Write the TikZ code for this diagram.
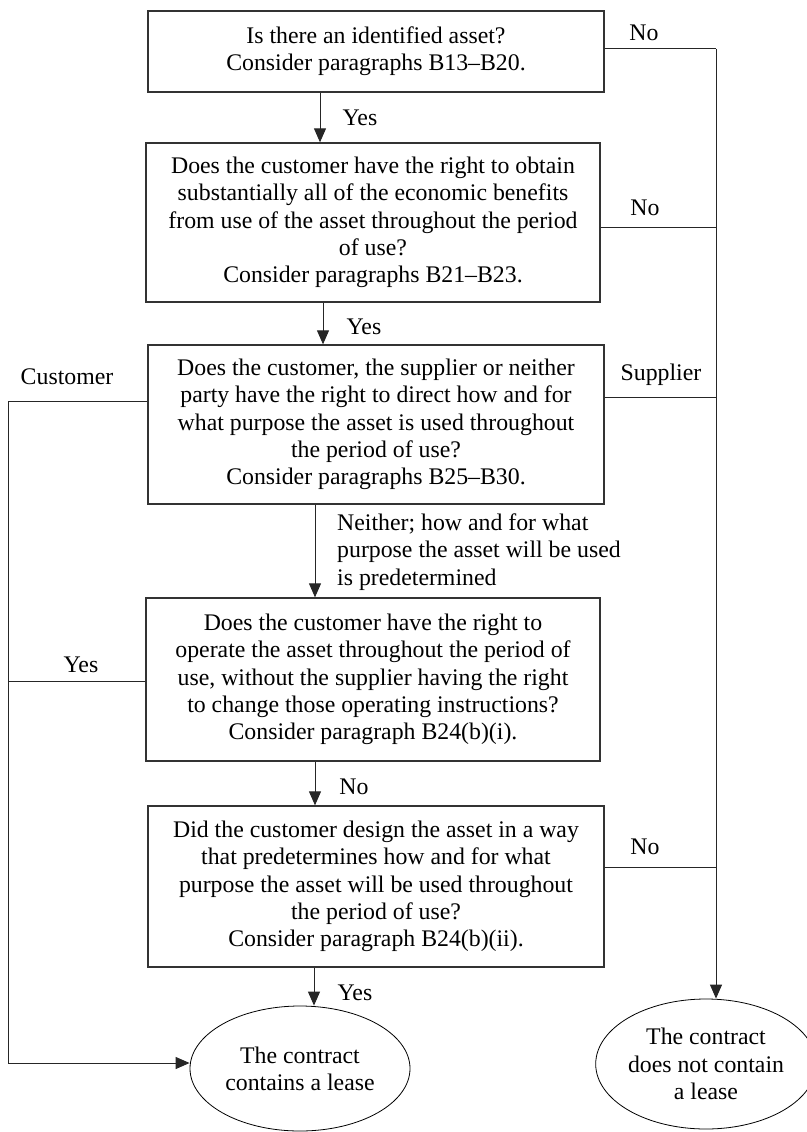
\documentclass[tikz,border=0pt]{standalone}
\usepackage{fontspec}
\setmainfont{Liberation Serif}
\usetikzlibrary{arrows.meta,shapes.geometric}
\begin{document}
\begin{tikzpicture}[x=1pt,y=-1pt,
  every node/.style={font=\fontsize{23.8}{27.3}\selectfont},
  qbox/.style={draw=black!80,line width=1.3pt,rectangle,inner sep=0pt,align=center},
  endell/.style={draw=black,line width=0.8pt,ellipse,inner sep=0pt,align=center},
  conn/.style={draw=black!85,line width=1pt},
  arr/.style={conn,-{Triangle[length=14pt,width=12pt]}},
  lbl/.style={inner sep=0pt}]
\useasboundingbox (0,0) rectangle (806,1132);

\node[qbox,minimum width=456pt,minimum height=81pt] (b1) at (376,51.5)
  {Is there an identified asset?\\Consider paragraphs B13--B20.};
\node[qbox,minimum width=454pt,minimum height=159pt] (b2) at (373,222.5)
  {Does the customer have the right to obtain\\substantially all of the economic benefits\\from use of the asset throughout the period\\of use?\\Consider paragraphs B21--B23.};
\node[qbox,minimum width=456pt,minimum height=159pt] (b3) at (376,424.5)
  {Does the customer, the supplier or neither\\party have the right to direct how and for\\what purpose the asset is used throughout\\the period of use?\\Consider paragraphs B25--B30.};
\node[qbox,minimum width=454pt,minimum height=163pt] (b4) at (373,679.5)
  {Does the customer have the right to\\operate the asset throughout the period of\\use, without the supplier having the right\\to change those operating instructions?\\Consider paragraph B24(b)(i).};
\node[qbox,minimum width=456pt,minimum height=161pt] (b5) at (376,886.5)
  {Did the customer design the asset in a way\\that predetermines how and for what\\purpose the asset will be used throughout\\the period of use?\\Consider paragraph B24(b)(ii).};
\node[endell,minimum width=220pt,minimum height=125pt] (e1) at (300,1068.5)
  {The contract\\contains a lease};
\node[endell,minimum width=196pt,minimum height=130pt] (e2) at (706,1064)
  {The contract\\does not contain\\a lease};

\coordinate (R) at (716,0);
\coordinate (L) at (8,0);

% vertical arrows
\draw[arr] (b1.south -| 320,0) -- (b2.north -| 320,0);
\draw[arr] (b2.south -| 323,0) -- (b3.north -| 323,0);
\draw[arr] (b3.south -| 315,0) -- (b4.north -| 315,0);
\draw[arr] (b4.south -| 315,0) -- (b5.north -| 315,0);
\draw[arr] (b5.south -| 314,0) -- (e1.north -| 314,0);

% right side
\draw[conn] (b1.east |- 0,49) -- (R |- 0,49);
\draw[arr] (R |- 0,49) -- (R |- e2.north);
\draw[conn] (b2.east |- 0,227) -- (R |- 0,227);
\draw[conn] (b3.east |- 0,397) -- (R |- 0,397);
\draw[conn] (b5.east |- 0,867) -- (R |- 0,867);

% left side
\draw[arr] (b3.west |- 0,401) -- (L |- 0,401) -- (L |- 0,1063) -- (e1.west |- 0,1063);
\draw[conn] (b4.west |- 0,681) -- (L |- 0,681);

% labels
\node[lbl] (n1) at (644,33) {No};
\node[lbl] (y1) at (360,118) {Yes};
\node[lbl] (n2) at (645,208) {No};
\node[lbl] (y2) at (364,327) {Yes};
\node[lbl] (cu) at (67,377) {Customer};
\node[lbl] (su) at (661,375) {Supplier};
\node[lbl,anchor=west,align=left] (ne) at (337,552)
  {Neither; how and for what\\purpose the asset will be used\\is predetermined};
\node[lbl] (y3) at (81,665) {Yes};
\node[lbl] (n3) at (354,787) {No};
\node[lbl] (n4) at (645,847) {No};
\node[lbl] (y4) at (355,993) {Yes};
\end{tikzpicture}
\end{document}
